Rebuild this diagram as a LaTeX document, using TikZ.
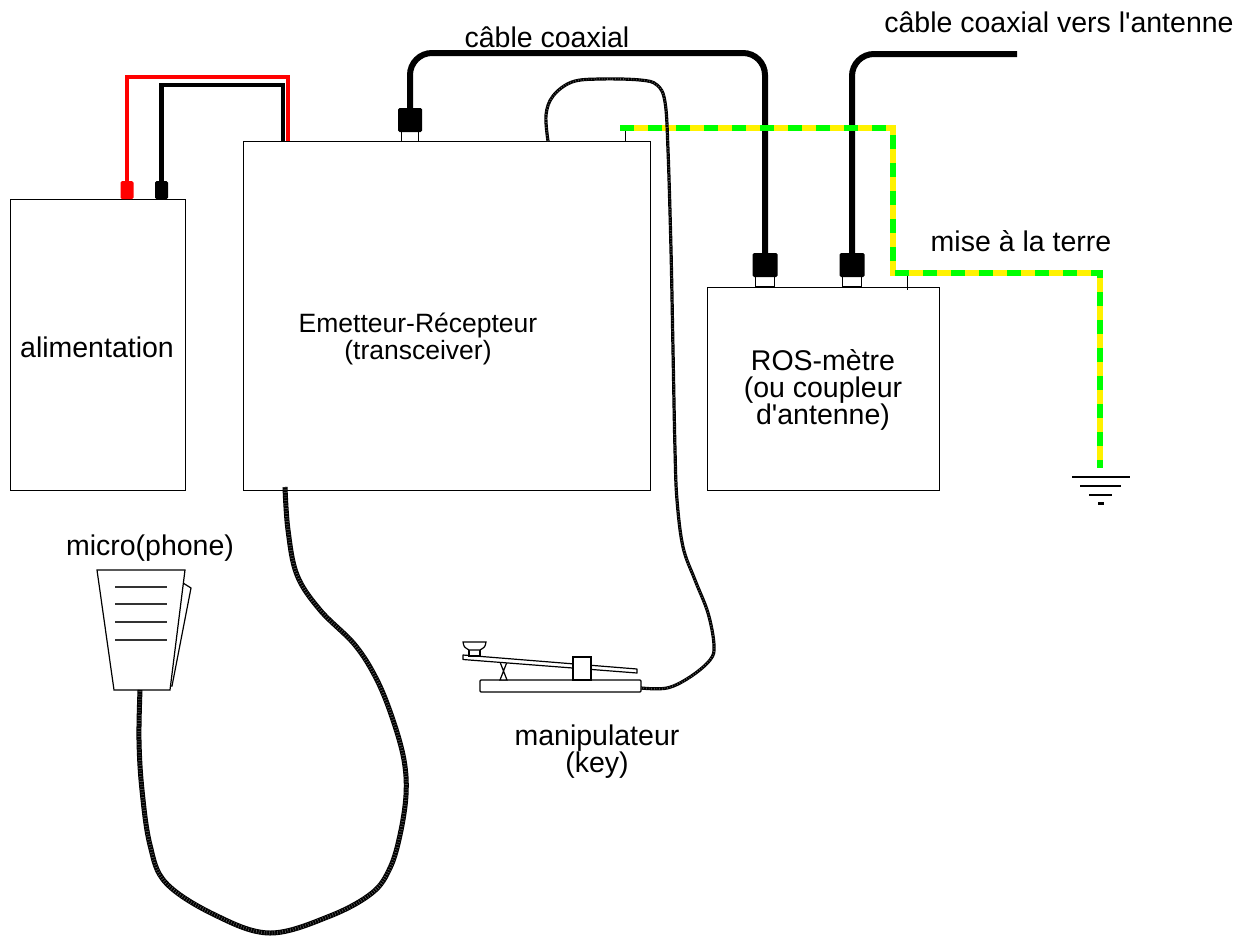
\documentclass[tikz,border=0pt]{standalone}
\usepackage{fontspec}
\setmainfont{Liberation Sans}
\begin{document}
\begin{tikzpicture}[x=1pt,y=-1pt,
  box/.style={draw, line width=1.3pt, inner sep=0pt, anchor=north west},
  lbl/.style={align=center, inner sep=0pt, font=\fontsize{28.5}{27}\selectfont},
  coax/.style={line width=6pt, rounded corners=22pt},
  plug/.style={fill=black, rounded corners=1.5pt},
  plugleg/.style={draw, line width=1pt},
  dccable/.style={line width=4.5pt},
  coil/.style={line width=5pt},
  coilmark/.style={line width=3.4pt, black!55, dash pattern=on 0.45pt off 2.2pt},
  thincoil/.style={line width=3.2pt},
  thinmark/.style={line width=1.8pt, black!55, dash pattern=on 0.45pt off 2.2pt},
  part/.style={draw, fill=white, line width=1.2pt},
  earth/.style={line width=6pt}]
\useasboundingbox (0,0) rectangle (1247,937);

% equipment boxes
\node (psu) [box, minimum width=175pt, minimum height=291pt] at (10,199) {};
\node (trx) [box, minimum width=407pt, minimum height=349pt] at (243,141) {};
\node (ros) [box, minimum width=232pt, minimum height=203pt] at (707,287) {};

\node[lbl] at (97,347) {alimentation};
\node[lbl, font=\fontsize{26.5}{27}\selectfont] at (418,339) {Emetteur-Récepteur\\(transceiver)};
\node[lbl] at (823,390) {ROS-mètre\\(ou coupleur\\d\textquotesingle antenne)};
\node[lbl] at (547,37) {câble coaxial};
\node[lbl] at (1059,22) {câble coaxial vers l\textquotesingle antenne};
\node[lbl] at (1021,241) {mise à la terre};
\node[lbl] at (150,548) {micro(phone)};
\node[lbl] at (597,752) {manipulateur\\(key)};

% DC supply leads
\coordinate (redplug) at (127,182);
\coordinate (blkplug) at (161.5,182);
\coordinate (redin) at (288,141);
\coordinate (blkin) at (283,141);
\draw[dccable, red] (redplug) |- (redin |- 0,77) -- (redin);
\draw[dccable, black] (blkplug) |- (blkin |- 0,85) -- (blkin);
\fill[red, rounded corners=1.5pt] (120.5,181) rectangle (133.5,199);
\fill[black, rounded corners=1.5pt] (155,181) rectangle (168,199);

% earth wire
\coordinate (gnd) at (1100,468);
\draw[thick] (625,126) -- (625,141);
\draw[thick] (907,273) -- (907,290);

% coaxial cables
\coordinate (c1) at (410,108);
\coordinate (c2) at (765,254);
\coordinate (c3) at (852,254);
\coordinate (ant) at (1017,54);
\draw[coax] (c1) -- (410,53) -- (765,53) -- (c2);
\draw[coax] (c3) -- (852,54) -- (ant);
\foreach \x in {765,852}{
  \fill[plug] (\x-12.5,253) rectangle (\x+12.5,277);
  \draw[plugleg] (\x-9.5,277) -- (\x-9.5,287) (\x+9.5,277) -- (\x+9.5,287) (\x-9.5,286.5) -- (\x+9.5,286.5);
}
\fill[plug] (398,108) rectangle (422,132);
\draw[plugleg] (401.5,132) -- (401.5,141) (418.5,132) -- (418.5,141);

\draw[earth, yellow] (620,128) -| (893,273) -| (gnd);
\draw[earth, green, dash pattern=on 14pt off 14pt] (620,128) -| (893,273) -| (gnd);

% earth symbol
\draw[line width=2.6pt] (1072,477) -- (1130,477);
\draw[line width=2.6pt] (1080,486) -- (1121,486);
\draw[line width=2.6pt] (1089,495) -- (1112,495);
\draw[line width=2.6pt] (1098,503.5) -- (1104,503.5);

% microphone
\draw[part] (183,583) -- (191,588) -- (172,686) -- (165,686) -- cycle;
\draw[part] (97,570) -- (185,570) -- (170,690) -- (114,690) -- cycle;
\foreach \y in {587,604,622,640}
  \draw[line width=1.6pt, black!80] (115,\y) -- (167,\y);
\coordinate (micout) at (140,690);

% microphone cord
\coordinate (trxmic) at (285,487);
\def\miccord{plot[smooth, tension=0.6] coordinates {(trxmic) (288,530) (297,575) (320,610) (355,645) (377,680) (393,720) (404,760) (406,795) (400,835) (390,868) (372,893) (330,916) (270,933) (215,915) (166,883) (150,845) (142,790) (139,740) (micout)}}
\draw[coil] \miccord;
\draw[coilmark] \miccord;

% morse key
\draw[part, rounded corners=1pt] (480,680) rectangle (641,692);
\draw[part] (500,662) -- (507,662) -- (503.5,671) -- cycle;
\draw[part] (503.5,671) -- (500,680) -- (507,680) -- cycle;
\draw[part, line join=round] (463,655) -- (637,669) -- (637,673) -- (463,659.5) -- cycle;
\draw[part] (573,657) rectangle (591,680);
\draw[part] (469,649) rectangle (480,656);
\draw[part] (463,642) -- (486,642) .. controls (485,647) .. (480,650) -- (469,650) .. controls (464,647) .. cycle;
\coordinate (keyin) at (641,688);

% key cord
\coordinate (trxkey) at (548,141);
\def\keycord{plot[smooth, tension=0.6] coordinates {(trxkey) (546,115) (553,96) (572,82) (600,79) (640,80) (657,85) (665,102) (668,150) (671,250) (673,350) (675,450) (677,500) (683,547) (695,580) (708,613) (714,645) (710,660) (690,677) (667,688) (keyin)}}
\draw[thincoil] \keycord;
\draw[thinmark] \keycord;
\end{tikzpicture}
\end{document}
